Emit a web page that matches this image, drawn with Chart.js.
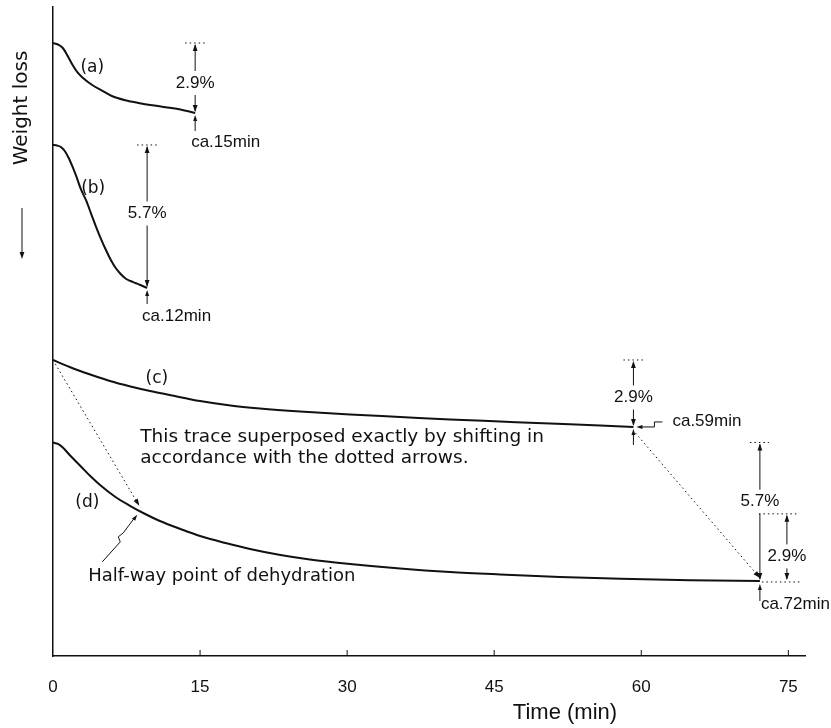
<!DOCTYPE html>
<html lang="en">
  <head>
    <meta charset="UTF-8">
    <title>Weight loss traces</title>
    <script src="https://cdn.jsdelivr.net/npm/chart.js"></script>
    <style>
      html, body { margin: 0; padding: 0; background: #fff; }
      .chart-container { width: 831px; height: 728px; }
    </style>
  </head>
  <body>
    <div class="chart-container"><canvas id="tgChart"></canvas></div>

    <script>
      // time (min) and weight (arbitrary units)
      const timeA = [0, 0.5, 1.0, 1.5, 2.0, 2.5, 3.0, 4.0, 5.0, 6.0, 7.5, 9.0, 11.0, 13.0, 14.5];
      const lossA = [94.45, 94.22, 93.68, 92.45, 91.06, 89.91, 89.14, 87.98, 87.13, 86.29, 85.59, 85.13, 84.67, 84.21, 83.67];

      const timeB = [0, 0.4, 0.8, 1.2, 1.6, 2.0, 2.4, 2.8, 3.4, 3.9, 4.4, 4.9, 5.4, 5.9, 6.4, 6.9, 7.4, 7.9, 8.4, 8.9, 9.6];
      const lossB = [78.74, 78.66, 78.43, 77.81, 76.73, 75.35, 73.81, 72.11, 70.11, 68.10, 66.10, 64.25, 62.56, 61.02, 59.78, 58.86, 58.17, 57.78, 57.47, 57.16, 56.70];

      const timeC = [0, 1.7, 3.8, 5.8, 7.9, 9.9, 11.9, 15.0, 18.1, 21.1, 25.2, 30.3, 35.4, 40.5, 45.6, 50.7, 55.8, 59.2];
      const lossC = [45.61, 44.53, 43.37, 42.37, 41.53, 40.83, 40.22, 39.29, 38.60, 38.14, 37.67, 37.21, 36.83, 36.44, 36.13, 35.82, 35.52, 35.29];

      const timeD = [0, 0.5, 1.0, 1.7, 2.8, 3.8, 4.8, 6.3, 7.9, 9.4, 10.9, 13.0, 15.0, 17.6, 20.1, 23.2, 26.2, 30.3, 35.4, 40.5, 45.6, 51.7, 57.9, 65.0, 72.1];
      const lossD = [32.90, 32.67, 32.13, 30.97, 29.28, 27.73, 26.35, 24.58, 23.11, 21.88, 20.80, 19.57, 18.49, 17.41, 16.49, 15.56, 14.87, 14.18, 13.48, 12.94, 12.56, 12.17, 11.90, 11.68, 11.56];

      // half-way point of dehydration on trace (d)
      const halfTime = 8.8;
      const halfLoss = 21.9;

      const xTicks = [0, 15, 30, 45, 60, 75];
      const traceNames = ['(a)', '(b)', '(c)', '(d)'];
      const lossPct = ['2.9%', '5.7%', '2.9%', '5.7%', '2.9%'];
      const endLabels = ['ca.15min', 'ca.12min', 'ca.59min', 'ca.72min'];

      const ink = '#111';
      const toPts = (ts, vs) => ts.map((t, i) => ({ x: t, y: vs[i] }));
      const last = (ts, vs) => ({ t: ts[ts.length - 1], v: vs[vs.length - 1] });

      function arrowHead(ctx, x, y, ang, len = 7, half = 2.4) {
        ctx.save();
        ctx.translate(x, y);
        ctx.rotate(ang);
        ctx.beginPath();
        ctx.moveTo(0, 0);
        ctx.lineTo(-len, -half);
        ctx.lineTo(-len, half);
        ctx.closePath();
        ctx.fill();
        ctx.restore();
      }

      function seg(ctx, x1, y1, x2, y2, dash) {
        ctx.save();
        ctx.setLineDash(dash || []);
        ctx.beginPath();
        ctx.moveTo(x1, y1);
        ctx.lineTo(x2, y2);
        ctx.stroke();
        ctx.restore();
      }

      // vertical dimension arrow with a label in its gap
      function dim(ctx, x, yTop, yBot, text, dy) {
        const ty = (yTop + yBot) / 2 + dy;
        seg(ctx, x, yTop + 2, x, ty - 12);
        seg(ctx, x, ty + 12, x, yBot - 2);
        arrowHead(ctx, x, yTop + 1, -Math.PI / 2);
        arrowHead(ctx, x, yBot - 1, Math.PI / 2);
        ctx.fillText(text, x, ty);
      }

      const notes = {
        id: 'notes',
        afterDatasetsDraw(chart) {
          const { ctx, chartArea, scales: { x, y } } = chart;
          const X = v => x.getPixelForValue(v);
          const Y = v => y.getPixelForValue(v);
          const dots = [1.5, 3];
          ctx.save();
          ctx.strokeStyle = ink;
          ctx.fillStyle = ink;
          ctx.lineWidth = 1;

          // tick marks point inwards
          xTicks.forEach(t => {
            if (t > 0) seg(ctx, X(t), chartArea.bottom, X(t), chartArea.bottom - 6);
          });

          // axis captions
          ctx.textAlign = 'center';
          ctx.textBaseline = 'middle';
          ctx.font = '22px "Liberation Sans", Arial, sans-serif';
          ctx.fillText('Time (min)', 565, 713);
          ctx.save();
          ctx.translate(22, 108);
          ctx.rotate(-Math.PI / 2);
          ctx.font = '20px "DejaVu Sans", sans-serif';
          ctx.fillText('Weight loss', 0, 0);
          ctx.restore();
          seg(ctx, 22, 208, 22, 252);
          arrowHead(ctx, 22, 259, Math.PI / 2);

          // trace names
          ctx.font = '17px "DejaVu Sans", sans-serif';
          [[4.0, 90.6], [4.1, 72.0], [10.6, 42.8], [3.5, 23.6]].forEach((p, i) => {
            ctx.fillText(traceNames[i], X(p[0]), Y(p[1]));
          });

          const endA = last(timeA, lossA);
          const endB = last(timeB, lossB);
          const endC = last(timeC, lossC);
          const endD = last(timeD, lossD);

          ctx.font = '17px "Liberation Sans", Arial, sans-serif';

          // (a)
          let ex = X(endA.t), ey = Y(endA.v);
          seg(ctx, ex - 10, Y(lossA[0]), ex + 10, Y(lossA[0]), dots);
          dim(ctx, ex, Y(lossA[0]), ey, lossPct[0], 5);
          seg(ctx, ex, ey + 18, ex, ey + 5);
          arrowHead(ctx, ex, ey + 2, -Math.PI / 2, 6, 2);
          ctx.textAlign = 'left';
          ctx.fillText(endLabels[0], ex - 4, ey + 29);
          ctx.textAlign = 'center';

          // (b)
          ex = X(endB.t); ey = Y(endB.v);
          seg(ctx, ex - 10, Y(lossB[0]), ex + 10, Y(lossB[0]), dots);
          dim(ctx, ex, Y(lossB[0]), ey, lossPct[1], -3);
          seg(ctx, ex, ey + 16, ex, ey + 5);
          arrowHead(ctx, ex, ey + 2, -Math.PI / 2, 6, 2);
          ctx.textAlign = 'left';
          ctx.fillText(endLabels[1], ex - 5, ey + 28);
          ctx.textAlign = 'center';

          // (c)
          ex = X(endC.t); ey = Y(endC.v);
          seg(ctx, ex - 10, Y(lossC[0]), ex + 10, Y(lossC[0]), dots);
          dim(ctx, ex, Y(lossC[0]), ey, lossPct[2], 4);
          seg(ctx, ex, ey + 18, ex, ey + 5);
          arrowHead(ctx, ex, ey + 2, -Math.PI / 2, 6, 2);
          ctx.beginPath();
          ctx.moveTo(ex + 8, ey);
          ctx.lineTo(ex + 21, ey);
          ctx.lineTo(ex + 21, ey - 5);
          ctx.lineTo(ex + 29, ey - 5);
          ctx.stroke();
          arrowHead(ctx, ex + 3, ey, Math.PI, 6, 2);
          ctx.textAlign = 'left';
          ctx.fillText(endLabels[2], ex + 39, ey - 6);
          ctx.textAlign = 'center';

          // (d)
          ex = X(endD.t); ey = Y(endD.v);
          const yHalf = Y(halfLoss);
          seg(ctx, ex - 10, Y(lossD[0]), ex + 9, Y(lossD[0]), dots);
          seg(ctx, ex - 1, yHalf, ex + 37, yHalf, dots);
          seg(ctx, ex + 2, ey + 1, ex + 42, ey + 1, dots);
          dim(ctx, ex, Y(lossD[0]), ey, lossPct[3], -10);
          dim(ctx, ex + 27, yHalf, ey, lossPct[4], 9);
          seg(ctx, ex, ey + 20, ex, ey + 6);
          arrowHead(ctx, ex, ey + 3, -Math.PI / 2, 6, 2);
          ctx.textAlign = 'left';
          ctx.fillText(endLabels[3], ex + 1, ey + 23);

          // dotted shifting arrows
          const hx = X(halfTime);
          let x1 = X(0), y1 = Y(lossC[0]), x2 = hx, y2 = yHalf - 8;
          seg(ctx, x1, y1, x2, y2, dots);
          arrowHead(ctx, x2, y2, Math.atan2(y2 - y1, x2 - x1), 7, 2.4);
          x1 = X(endC.t) + 2; y1 = Y(endC.v) + 6; x2 = X(endD.t); y2 = Y(endD.v) - 3;
          seg(ctx, x1, y1, x2, y2, dots);
          arrowHead(ctx, x2, y2, Math.atan2(y2 - y1, x2 - x1), 7, 2.4);

          // half-way pointer
          ctx.beginPath();
          ctx.moveTo(hx - 37, yHalf + 48);
          ctx.lineTo(hx - 19, yHalf + 28);
          ctx.lineTo(hx - 21, yHalf + 23);
          ctx.lineTo(hx - 16, yHalf + 19);
          ctx.lineTo(hx - 4, yHalf + 3);
          ctx.stroke();
          arrowHead(ctx, hx - 2, yHalf + 1, Math.atan2(-18, 14), 6, 2);

          // sentences
          ctx.font = '18.5px "DejaVu Sans", sans-serif';
          ctx.fillText('This trace superposed exactly by shifting in', X(8.9), Y(33.7));
          ctx.fillText('accordance with the dotted arrows.', X(8.9), Y(30.5));
          ctx.font = '18px "DejaVu Sans", sans-serif';
          ctx.fillText('Half-way point of dehydration', X(3.6), Y(12.2));

          ctx.restore();
        }
      };

      const trace = (ts, vs) => ({
        data: toPts(ts, vs),
        borderColor: ink,
        borderWidth: 2,
        pointRadius: 0,
        cubicInterpolationMode: 'monotone',
        fill: false
      });

      const ctx = document.getElementById('tgChart').getContext('2d');
      new Chart(ctx, {
        type: 'line',
        data: {
          datasets: [
            trace(timeA, lossA),
            trace(timeB, lossB),
            trace(timeC, lossC),
            trace(timeD, lossD)
          ]
        },
        options: {
          responsive: true,
          maintainAspectRatio: false,
          devicePixelRatio: 1,
          animation: false,
          layout: { padding: { top: 7, right: 26, left: 0, bottom: 0 } },
          plugins: {
            legend: { display: false },
            tooltip: { enabled: false }
          },
          scales: {
            x: {
              type: 'linear',
              min: 0,
              max: 76.7,
              afterBuildTicks: s => { s.ticks = xTicks.map(v => ({ value: v })); },
              afterFit: s => { s.height = 72; },
              grid: { display: false },
              border: { display: true, color: ink, width: 1.5 },
              ticks: {
                color: ink,
                padding: 13,
                maxRotation: 0,
                font: { family: '"Liberation Sans", Arial, sans-serif', size: 17 }
              }
            },
            y: {
              type: 'linear',
              min: 0,
              max: 100,
              afterFit: s => { s.width = 53; },
              grid: { display: false },
              border: { display: true, color: ink, width: 1.5 },
              ticks: { display: false }
            }
          }
        },
        plugins: [notes]
      });
    </script>
  </body>
</html>
